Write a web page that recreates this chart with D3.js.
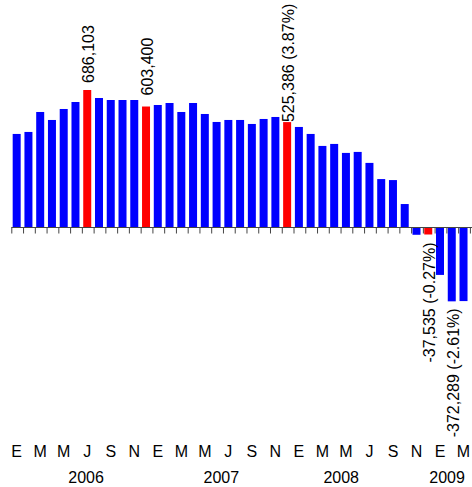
<!DOCTYPE html>
<html>
<head>
<meta charset="utf-8">
<script src="https://cdn.jsdelivr.net/npm/d3@7"></script>
<style>
  body { margin: 0; background: #fff; }
  svg { display: block; }
  text { font-family: "Liberation Sans", Arial, Helvetica, sans-serif; fill: #000; }
</style>
</head>
<body>
<svg id="chart" width="472" height="487"></svg>
<script>
// Monthly year-on-year change, January 2006 to March 2009
const monthIndex = d3.range(39);
const values = [
  466000, 476000, 576000, 536000, 591000, 626000, 686103, 646000, 636000, 636000, 636000, 603400,
  611000, 621000, 576000, 621000, 566000, 526000, 536000, 536000, 516000, 541000, 551000, 525386,
  501000, 466000, 406000, 416000, 371000, 376000, 321000, 240000, 235000, 115000, -39000, -37535,
  -240000, -372289, -371000
];
const highlighted = [6, 11, 23, 35];
const monthLetters = ["E", "F", "M", "A", "M", "J", "J", "A", "S", "O", "N", "D"];
const years = ["2006", "2007", "2008", "2009"];
const labelIndex = [6, 11, 23, 35, 37];
const labelText = ["686,103", "603,400", "525,386 (3.87%)", "-37,535 (-0.27%)", "-372,289 (-2.61%)"];

const svg = d3.select("#chart");

const x = d3.scaleBand()
  .domain(monthIndex)
  .range([10.8, 469.4])
  .paddingInner(0.32)
  .paddingOuter(0.16);

// boundaries between months, for the tick marks
const xEdge = d3.scaleLinear().domain([0, 39]).range([10.8, 469.4]);

const y = d3.scaleLinear()
  .domain([0, 686103])
  .range([227, 90]);

// bars
svg.append("g")
  .selectAll("rect")
  .data(values)
  .join("rect")
  .attr("x", (d, i) => x(i))
  .attr("width", x.bandwidth())
  .attr("y", d => Math.min(y(d), y(0)))
  .attr("height", d => Math.abs(y(d) - y(0)))
  .attr("fill", (d, i) => highlighted.includes(i) ? "#ff0000" : "#0000ff");

// zero line with month ticks
const axis = svg.append("g")
  .attr("transform", `translate(0.5,${Math.round(y(0)) + 0.5})`)
  .call(d3.axisBottom(xEdge).tickValues(d3.range(40)).tickSize(6).tickSizeOuter(0).tickFormat(""));
axis.select(".domain").attr("stroke", "#444").attr("d", `M${xEdge(0)},0H472`);
axis.selectAll(".tick line").attr("stroke", "#444");

// month initials every second month
svg.append("g")
  .selectAll("text")
  .data(monthIndex.filter(i => i % 2 === 0))
  .join("text")
  .attr("x", i => x(i) + x.bandwidth() / 2)
  .attr("y", 457)
  .attr("text-anchor", "middle")
  .attr("font-size", 16)
  .text(i => monthLetters[i % 12]);

// year labels
const yearAt = [5.9, 17.4, 27.6, 36.6];
svg.append("g")
  .selectAll("text")
  .data(years)
  .join("text")
  .attr("x", (d, k) => x(0) + x.bandwidth() / 2 + yearAt[k] * x.step())
  .attr("y", 483)
  .attr("text-anchor", "middle")
  .attr("font-size", 16)
  .text(d => d);

// value labels, rotated
const gap = [7, 11, 0, 8, 7];
svg.append("g")
  .selectAll("text")
  .data(labelIndex)
  .join("text")
  .each(function (i, k) {
    const v = values[i];
    const cx = x(i) + x.bandwidth() / 2 + 1.5;
    const cy = v >= 0 ? y(v) - gap[k] : y(v) + gap[k];
    d3.select(this)
      .attr("transform", `translate(${cx},${cy}) rotate(-90)`)
      .attr("text-anchor", v >= 0 ? "start" : "end")
      .attr("dy", "0.35em")
      .attr("font-size", 16)
      .text(labelText[k]);
  });
</script>
</body>
</html>
